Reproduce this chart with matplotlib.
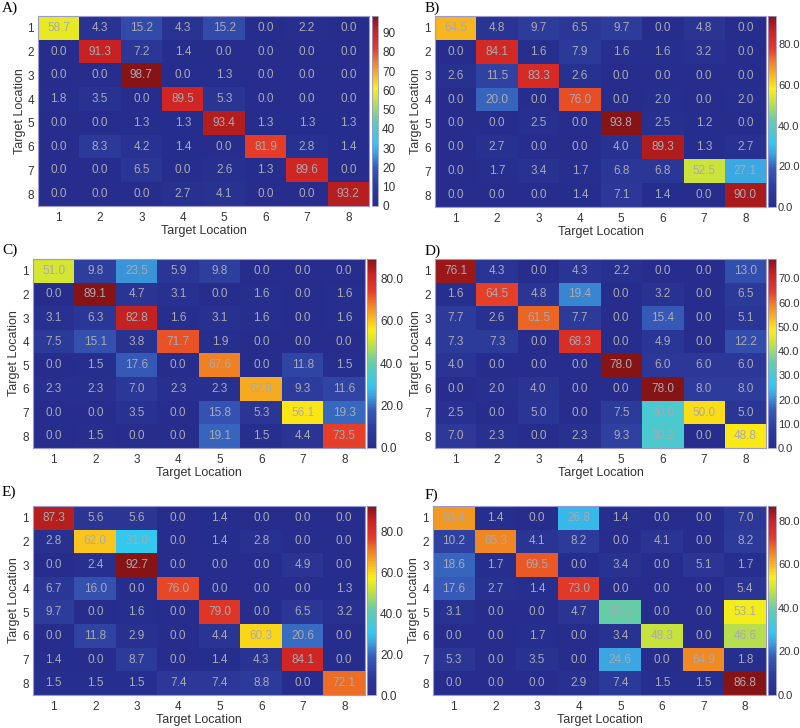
import numpy as np
import matplotlib
matplotlib.use("Agg")
import matplotlib.pyplot as plt
from matplotlib.colors import LinearSegmentedColormap
from matplotlib.ticker import MultipleLocator, FormatStrFormatter

plt.rcParams['font.family'] = ['Liberation Sans', 'DejaVu Sans']

locations = [1, 2, 3, 4, 5, 6, 7, 8]
panel_labels = ["A)", "B)", "C)", "D)", "E)", "F)"]

conf_a = [[58.7, 4.3, 15.2, 4.3, 15.2, 0.0, 2.2, 0.0],
          [0.0, 91.3, 7.2, 1.4, 0.0, 0.0, 0.0, 0.0],
          [0.0, 0.0, 98.7, 0.0, 1.3, 0.0, 0.0, 0.0],
          [1.8, 3.5, 0.0, 89.5, 5.3, 0.0, 0.0, 0.0],
          [0.0, 0.0, 1.3, 1.3, 93.4, 1.3, 1.3, 1.3],
          [0.0, 8.3, 4.2, 1.4, 0.0, 81.9, 2.8, 1.4],
          [0.0, 0.0, 6.5, 0.0, 2.6, 1.3, 89.6, 0.0],
          [0.0, 0.0, 0.0, 2.7, 4.1, 0.0, 0.0, 93.2]]

conf_b = [[64.5, 4.8, 9.7, 6.5, 9.7, 0.0, 4.8, 0.0],
          [0.0, 84.1, 1.6, 7.9, 1.6, 1.6, 3.2, 0.0],
          [2.6, 11.5, 83.3, 2.6, 0.0, 0.0, 0.0, 0.0],
          [0.0, 20.0, 0.0, 76.0, 0.0, 2.0, 0.0, 2.0],
          [0.0, 0.0, 2.5, 0.0, 93.8, 2.5, 1.2, 0.0],
          [0.0, 2.7, 0.0, 0.0, 4.0, 89.3, 1.3, 2.7],
          [0.0, 1.7, 3.4, 1.7, 6.8, 6.8, 52.5, 27.1],
          [0.0, 0.0, 0.0, 1.4, 7.1, 1.4, 0.0, 90.0]]

conf_c = [[51.0, 9.8, 23.5, 5.9, 9.8, 0.0, 0.0, 0.0],
          [0.0, 89.1, 4.7, 3.1, 0.0, 1.6, 0.0, 1.6],
          [3.1, 6.3, 82.8, 1.6, 3.1, 1.6, 0.0, 1.6],
          [7.5, 15.1, 3.8, 71.7, 1.9, 0.0, 0.0, 0.0],
          [0.0, 1.5, 17.6, 0.0, 67.6, 0.0, 11.8, 1.5],
          [2.3, 2.3, 7.0, 2.3, 2.3, 62.8, 9.3, 11.6],
          [0.0, 0.0, 3.5, 0.0, 15.8, 5.3, 56.1, 19.3],
          [0.0, 1.5, 0.0, 0.0, 19.1, 1.5, 4.4, 73.5]]

conf_d = [[76.1, 4.3, 0.0, 4.3, 2.2, 0.0, 0.0, 13.0],
          [1.6, 64.5, 4.8, 19.4, 0.0, 3.2, 0.0, 6.5],
          [7.7, 2.6, 61.5, 7.7, 0.0, 15.4, 0.0, 5.1],
          [7.3, 7.3, 0.0, 68.3, 0.0, 4.9, 0.0, 12.2],
          [4.0, 0.0, 0.0, 0.0, 78.0, 6.0, 6.0, 6.0],
          [0.0, 2.0, 4.0, 0.0, 0.0, 78.0, 8.0, 8.0],
          [2.5, 0.0, 5.0, 0.0, 7.5, 30.0, 50.0, 5.0],
          [7.0, 2.3, 0.0, 2.3, 9.3, 30.2, 0.0, 48.8]]

conf_e = [[87.3, 5.6, 5.6, 0.0, 1.4, 0.0, 0.0, 0.0],
          [2.8, 62.0, 31.0, 0.0, 1.4, 2.8, 0.0, 0.0],
          [0.0, 2.4, 92.7, 0.0, 0.0, 0.0, 4.9, 0.0],
          [6.7, 16.0, 0.0, 76.0, 0.0, 0.0, 0.0, 1.3],
          [9.7, 0.0, 1.6, 0.0, 79.0, 0.0, 6.5, 3.2],
          [0.0, 11.8, 2.9, 0.0, 4.4, 60.3, 20.6, 0.0],
          [1.4, 0.0, 8.7, 0.0, 1.4, 4.3, 84.1, 0.0],
          [1.5, 1.5, 1.5, 7.4, 7.4, 8.8, 0.0, 72.1]]

conf_f = [[63.4, 1.4, 0.0, 26.8, 1.4, 0.0, 0.0, 7.0],
          [10.2, 65.3, 4.1, 8.2, 0.0, 4.1, 0.0, 8.2],
          [18.6, 1.7, 69.5, 0.0, 3.4, 0.0, 5.1, 1.7],
          [17.6, 2.7, 1.4, 73.0, 0.0, 0.0, 0.0, 5.4],
          [3.1, 0.0, 0.0, 4.7, 39.1, 0.0, 0.0, 53.1],
          [0.0, 0.0, 1.7, 0.0, 3.4, 48.3, 0.0, 46.6],
          [5.3, 0.0, 3.5, 0.0, 24.6, 0.0, 64.9, 1.8],
          [0.0, 0.0, 0.0, 2.9, 7.4, 1.5, 1.5, 86.8]]

matrices = [conf_a, conf_b, conf_c, conf_d, conf_e, conf_f]

# washed-out jet, as in the original figure
cmap = LinearSegmentedColormap.from_list("soft_jet", [
    (0.00, "#262d8c"), (0.10, "#2d3c9b"), (0.20, "#375ab9"),
    (0.28, "#3ca5e1"), (0.33, "#32c8f0"), (0.45, "#64cdaa"),
    (0.55, "#c3e141"), (0.62, "#faf014"), (0.68, "#fabe1e"),
    (0.76, "#f08223"), (0.83, "#e63c28"), (0.92, "#cd2323"),
    (1.00, "#871414")])

# pixel boxes: heatmap (left, top, right, bottom), colorbar (left, right)
W, H = 800, 728
boxes = [((38, 16, 369, 206), (372, 378)),
         ((435, 16, 766, 207), (768, 776)),
         ((33, 259, 365, 448), (367, 376)),
         ((435, 259, 766, 448), (768, 776)),
         ((33, 506, 365, 695), (367, 376)),
         ((433, 506, 766, 695), (768, 776))]
label_pos = [(2, 8), (425, 8), (2, 250), (425, 251), (2, 492), (425, 495)]
cbar_step = [10, 20, 20, 10, 20, 20]
cbar_fmt = ["%d", "%.1f", "%.1f", "%.1f", "%.1f", "%.1f"]

fig = plt.figure(figsize=(8, 7.28), dpi=100)

for k, data in enumerate(matrices):
    data = np.array(data)
    (l, t, r, b), (cl, cr) = boxes[k]
    w, h = r - l, b - t
    ax = fig.add_axes([l / W, 1 - b / H, w / W, h / H])
    cax = fig.add_axes([cl / W, 1 - b / H, (cr - cl) / W, h / H])
    im = ax.imshow(data, cmap=cmap, aspect="auto")
    for i in range(data.shape[0]):
        for j in range(data.shape[1]):
            ax.text(j, i, "%.1f" % data[i, j], ha="center", va="center",
                    fontsize=8.5, color="#a9a9b3")
    ax.set_xticks(range(len(locations)))
    ax.set_yticks(range(len(locations)))
    ax.set_xticklabels(locations, fontsize=8.5, color="#333333")
    ax.set_yticklabels(locations, fontsize=8.5, color="#333333")
    ax.tick_params(length=0, pad=3)
    ax.tick_params(axis="x", pad=4)
    ax.set_xlabel("Target Location", fontsize=9, color="#333333")
    ax.set_ylabel("Target Location", fontsize=9, color="#333333")
    ax.xaxis.set_label_coords(0.5, -19 / h)
    ax.yaxis.set_label_coords(-12.5 / w, 0.5)
    for sp in ax.spines.values():
        sp.set_color("#9a9ad0")
        sp.set_linewidth(0.8)

    cb = fig.colorbar(im, cax=cax)
    cb.locator = MultipleLocator(cbar_step[k])
    cb.formatter = FormatStrFormatter(cbar_fmt[k])
    cb.update_ticks()
    right_col = k % 2 == 1
    cax.tick_params(labelsize=8 if right_col else 8.5, length=0,
                    pad=1.5 if right_col else 3, labelcolor="#333333")
    cb.outline.set_edgecolor("#9a9ad0")
    cb.outline.set_linewidth(0.6)

    lx, ly = label_pos[k]
    fig.text(lx / W, 1 - ly / H, panel_labels[k], fontsize=11,
             family=["Liberation Serif", "DejaVu Serif"], va="center", ha="left")

fig.savefig("out.png", dpi=100)
